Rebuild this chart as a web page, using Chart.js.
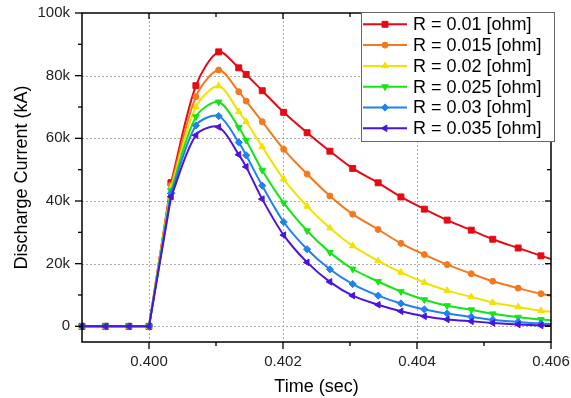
<!DOCTYPE html>
<html>
<head>
<meta charset="utf-8">
<script src="https://cdn.jsdelivr.net/npm/chart.js@4"></script>
<style>
html,body{margin:0;padding:0;background:#fff;}
#c{display:block;}
</style>
</head>
<body>
<canvas id="c" width="571" height="398"></canvas>
<script>
// ---- data (current in thousands, "k") ----
const timeSec = [0.399, 0.39935, 0.3997, 0.4000, 0.40033, 0.4007, 0.40104, 0.40134, 0.40145, 0.40169, 0.40201, 0.40236, 0.4027, 0.40304, 0.40342, 0.40376, 0.40411, 0.40445, 0.40481, 0.40513, 0.40551, 0.40585, 0.40619];
const seriesLabels = ['R = 0.01 [ohm]', 'R = 0.015 [ohm]', 'R = 0.02 [ohm]', 'R = 0.025 [ohm]', 'R = 0.03 [ohm]', 'R = 0.035 [ohm]'];
const r010 = [0, 0, 0, 0, 45.8, 76.8, 87.6, 82.5, 80.4, 75.2, 68.3, 61.8, 55.9, 50.4, 45.8, 41.3, 37.4, 33.9, 30.7, 27.8, 25.0, 22.5, 20.3];
const r015 = [0, 0, 0, 0, 45.0, 73.3, 81.8, 74.9, 71.9, 65.3, 56.5, 48.6, 41.6, 35.8, 30.9, 26.5, 22.9, 19.7, 16.8, 14.4, 12.2, 10.4, 9.0];
const r020 = [0, 0, 0, 0, 44.2, 70.0, 76.7, 68.5, 65.3, 57.3, 47.0, 38.3, 31.4, 25.7, 20.9, 17.2, 14.0, 11.4, 9.4, 7.6, 6.2, 5.0, 4.2];
const r025 = [0, 0, 0, 0, 43.4, 66.9, 71.6, 63.5, 59.4, 49.8, 39.4, 30.5, 23.6, 18.3, 14.3, 11.1, 8.5, 6.6, 5.3, 4.0, 2.9, 2.2, 1.7];
const r030 = [0, 0, 0, 0, 42.5, 64.1, 67.1, 58.7, 54.6, 44.9, 33.3, 24.6, 18.2, 13.5, 9.8, 7.3, 5.4, 4.1, 3.0, 2.1, 1.4, 0.9, 0.6];
const r035 = [0, 0, 0, 0, 41.4, 61.0, 63.6, 54.8, 50.9, 40.6, 29.1, 20.4, 14.2, 9.8, 6.9, 4.8, 3.2, 2.2, 1.6, 1.1, 0.6, 0.3, 0.2];
const seriesValues = [r010, r015, r020, r025, r030, r035];
const riseEndIndex = 4; // last sample of the initial straight rise

const xTickValues = [0.400, 0.402, 0.404, 0.406];
const xTickLabels = ['0.400', '0.402', '0.404', '0.406'];
const xMinorValues = [0.401, 0.403, 0.405];
const yTickValues = [0, 20, 40, 60, 80, 100];
const yTickLabels = ['0', '20k', '40k', '60k', '80k', '100k'];
const yMinorValues = [10, 30, 50, 70, 90];

// ---- styles ----
const FONT = 'Arial, "Liberation Sans", sans-serif';
const colors = ['#E60A14', '#F5781E', '#F2E200', '#14E614', '#1E82F0', '#4B14DC'];
const pointStyles = ['rect', 'circle', 'triangle', 'triangle', 'rectRot', 'triangle'];
const pointRotations = [0, 0, 0, 180, 0, -90];
const pointRadii = [4.2, 3, 3.8, 3.8, 3.6, 3.8];

function styleFor(i) {
  return {
    borderColor: colors[i],
    backgroundColor: colors[i],
    pointBackgroundColor: colors[i],
    pointBorderColor: colors[i],
    pointBorderWidth: 1,
    pointStyle: pointStyles[i],
    pointRotation: pointRotations[i],
    pointRadius: pointRadii[i],
    borderWidth: 2,
    clip: {left: 8, top: 8, right: 0, bottom: 8}
  };
}

const datasets = [];
for (let i = seriesValues.length - 1; i >= 0; i--) {
  const pts = timeSec.map((t, j) => ({x: t, y: seriesValues[i][j]}));
  datasets.push(Object.assign({label: seriesLabels[i], legendIndex: i, data: pts.slice(riseEndIndex), tension: 0.3}, styleFor(i)));
  datasets.push(Object.assign({label: seriesLabels[i], legendIndex: -1, data: pts.slice(0, riseEndIndex + 1), tension: 0}, styleFor(i)));
}

function seg(ctx, x1, y1, x2, y2) {
  ctx.beginPath(); ctx.moveTo(x1, y1); ctx.lineTo(x2, y2); ctx.stroke();
}

const framePlugin = {
  id: 'frame',
  beforeDatasetsDraw(chart) {
    const {ctx, chartArea: a, scales: {x, y}} = chart;
    ctx.save();
    ctx.strokeStyle = '#aaaaaa';
    ctx.lineWidth = 1;
    ctx.setLineDash([2, 2]);
    xTickValues.forEach(v => {
      const px = Math.round(x.getPixelForValue(v)) + 0.5;
      if (px > a.left + 2 && px < a.right - 2) seg(ctx, px, a.top, px, a.bottom);
    });
    yTickValues.forEach(v => {
      const py = Math.round(y.getPixelForValue(v)) + 0.5;
      if (py > a.top + 2 && py < a.bottom - 2) seg(ctx, a.left, py, a.right, py);
    });
    ctx.restore();
  },
  afterDatasetsDraw(chart) {
    const {ctx, chartArea: a, scales: {x, y}} = chart;
    ctx.save();
    ctx.strokeStyle = '#000';
    ctx.lineWidth = 1.5;
    ctx.strokeRect(a.left, a.top, a.right - a.left, a.bottom - a.top);
    ctx.lineWidth = 1.3;
    xTickValues.forEach(v => {
      const px = x.getPixelForValue(v);
      seg(ctx, px, a.bottom, px, a.bottom + 7);
      seg(ctx, px, a.top, px, a.top + 6);
    });
    xMinorValues.forEach(v => {
      const px = x.getPixelForValue(v);
      seg(ctx, px, a.bottom, px, a.bottom + 4);
      seg(ctx, px, a.top, px, a.top + 4);
    });
    yTickValues.forEach(v => {
      const py = y.getPixelForValue(v);
      seg(ctx, a.left - 7, py, a.left, py);
      seg(ctx, a.right - 6, py, a.right, py);
    });
    yMinorValues.forEach(v => {
      const py = y.getPixelForValue(v);
      seg(ctx, a.left - 4, py, a.left, py);
      seg(ctx, a.right - 4, py, a.right, py);
    });
    ctx.restore();
  },
  afterDraw(chart) {
    const {ctx} = chart;
    const items = chart.data.datasets.filter(d => d.legendIndex >= 0).sort((p, q) => p.legendIndex - q.legendIndex);
    ctx.save();
    ctx.fillStyle = '#fff';
    ctx.fillRect(361, 12, 193, 130);
    ctx.strokeStyle = '#666';
    ctx.lineWidth = 1;
    ctx.strokeRect(361.5, 12.5, 193, 129);
    items.forEach((ds, i) => {
      const cy = 24.3 + i * 20.8;
      ctx.strokeStyle = ds.borderColor;
      ctx.fillStyle = ds.borderColor;
      ctx.lineWidth = 2;
      seg(ctx, 363, cy, 407, cy);
      ctx.lineWidth = 1;
      Chart.helpers.drawPoint(ctx, {pointStyle: ds.pointStyle, rotation: ds.pointRotation, radius: ds.pointRadius, borderWidth: 1}, 385, cy);
      ctx.fillStyle = '#000';
      ctx.font = '18px ' + FONT;
      ctx.textBaseline = 'middle';
      ctx.textAlign = 'left';
      ctx.fillText(ds.label, 413, cy + 1);
    });
    ctx.restore();
  }
};

new Chart(document.getElementById('c'), {
  type: 'line',
  data: {datasets},
  options: {
    responsive: false,
    devicePixelRatio: 1,
    animation: false,
    layout: {padding: {top: 13, right: 20, left: 0, bottom: 0}},
    plugins: {legend: {display: false}, tooltip: {enabled: false}},
    scales: {
      x: {
        type: 'linear',
        min: 0.399,
        max: 0.406,
        afterBuildTicks: s => { s.ticks = xTickValues.map(v => ({value: v})); },
        afterFit: s => { s.height = 56; s.paddingLeft = 0; s.paddingRight = 0; },
        ticks: {
          autoSkip: false, maxRotation: 0, padding: 3, color: '#222',
          font: {size: 15, family: FONT},
          callback: v => { const i = xTickValues.findIndex(t => Math.abs(t - v) < 1e-7); return i >= 0 ? xTickLabels[i] : ''; }
        },
        grid: {display: false},
        border: {display: false},
        title: {display: true, text: 'Time (sec)', color: '#000', font: {size: 18, family: FONT}, padding: {top: 0, bottom: 0}}
      },
      y: {
        type: 'linear',
        min: -5,
        max: 100,
        afterBuildTicks: s => { s.ticks = yTickValues.map(v => ({value: v})); },
        afterFit: s => { s.width = 82; s.paddingTop = 0; s.paddingBottom = 0; },
        ticks: {
          autoSkip: false, padding: 4, color: '#222',
          font: {size: 15, family: FONT},
          callback: v => { const i = yTickValues.indexOf(v); return i >= 0 ? yTickLabels[i] : ''; }
        },
        grid: {display: false},
        border: {display: false},
        title: {display: true, text: 'Discharge Current (kA)', color: '#000', font: {size: 18, family: FONT}, padding: {top: 11, bottom: 0}}
      }
    }
  },
  plugins: [framePlugin]
});
</script>
</body>
</html>
